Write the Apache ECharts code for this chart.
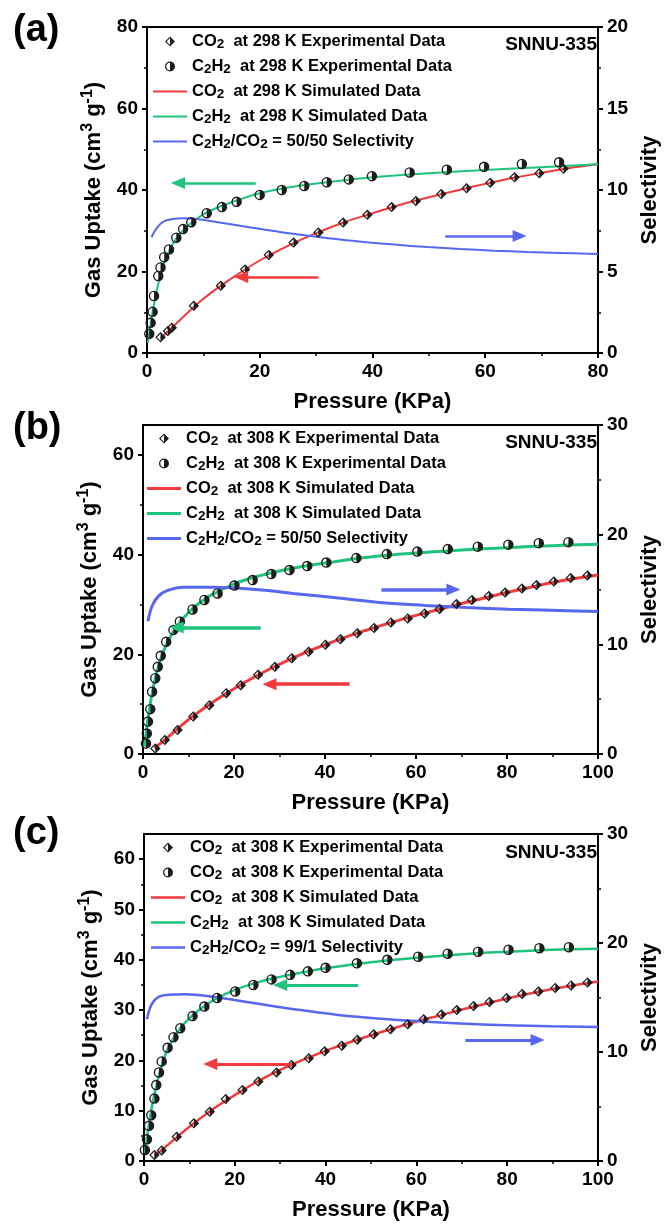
<!DOCTYPE html>
<html><head><meta charset="utf-8">
<script src="https://cdn.jsdelivr.net/npm/echarts@6/dist/echarts.min.js"></script>
<style>html,body{margin:0;padding:0;background:#fff}#c{width:669px;height:1227px}</style>
</head><body><div id="c"></div>
<script>
// ---------------- DATA ----------------
// Panel (a) 298 K
const a_co2_exp = [[2.4,3.85],[3.7,5.4],[4.4,6.2],[8.3,11.6],[13.1,16.5],[17.4,20.5],[21.6,24.05],[26.0,27.1],[30.4,29.6],[34.8,32.0],[39.1,33.9],[43.4,35.8],[47.7,37.3],[52.2,39.0],[56.7,40.4],[60.9,41.8],[65.2,43.1],[69.6,44.1],[73.9,45.2]];
const a_c2h2_exp = [[0.4,4.7],[0.65,7.4],[1.0,10.1],[1.25,14.0],[2.0,18.9],[2.4,21.0],[3.05,23.5],[3.9,25.4],[5.2,28.3],[6.4,30.4],[7.85,32.1],[10.6,34.3],[13.3,35.8],[15.9,37.1],[20.0,38.8],[23.9,40.0],[27.9,41.0],[31.9,41.9],[35.8,42.6],[39.9,43.4],[46.6,44.3],[53.2,45.0],[59.8,45.7],[66.5,46.4],[73.1,46.8]];
const a_co2_sim = [[2.4,3.6],[5,7.0],[10,13.3],[15,18.3],[20,22.7],[25,26.3],[30,29.4],[35,32.1],[40,34.3],[45,36.4],[50,38.2],[55,39.9],[60,41.5],[65,43.0],[70,44.2],[75,45.4],[80,46.3]];
const a_c2h2_sim = [[0.15,2.5],[0.5,5.8],[1,10],[1.5,13.8],[2,17],[3,22],[4,25.3],[5,27.7],[6,29.5],[7,30.9],[8,32.1],[10,34.0],[12,35.4],[15,37.0],[20,39.2],[25,40.6],[30,41.6],[35,42.4],[40,43.1],[50,44.1],[60,44.9],[70,45.6],[80,46.3]];
const a_sel = [[0.8,7.1],[1.7,7.65],[2.9,8.06],[4.6,8.22],[6.4,8.26],[8.7,8.22],[14.6,7.91],[20.5,7.59],[26.2,7.30],[32.2,7.04],[38.0,6.83],[43.9,6.65],[49.8,6.50],[55.6,6.38],[61.5,6.28],[67.4,6.20],[73.2,6.14],[80,6.07]];
const a_arrow_c2h2 = [[19.3,41.7],[5.5,41.7]];
const a_arrow_co2 = [[30.4,18.65],[16.7,18.65]];
const a_arrow_sel = [[52.9,7.18],[66.1,7.18]];

// Panel (b) 308 K
const b_co2_exp = [[2.7,1.1],[4.8,2.8],[7.6,4.8],[11.05,7.5],[14.6,9.8],[18.3,12.2],[21.5,13.8],[25.3,15.9],[29.0,17.5],[32.7,19.2],[36.4,20.5],[40.1,21.9],[43.4,23.0],[47.1,24.2],[50.8,25.3],[54.5,26.4],[58.2,27.2],[61.9,28.2],[65.2,29.1],[68.9,30.1],[72.3,30.9],[76.0,31.7],[79.6,32.4],[83.3,33.2],[86.5,33.9],[90.3,34.6],[94.0,35.3],[97.7,35.8]];
const b_c2h2_exp = [[0.65,2.1],[0.84,4.1],[1.1,6.5],[1.6,9.0],[2.0,12.5],[2.7,15.2],[3.25,17.5],[3.9,19.7],[5.1,22.5],[6.7,24.9],[8.1,26.6],[10.9,29.0],[13.5,30.9],[16.4,32.2],[20.1,33.8],[24.1,34.9],[28.2,36.1],[32.2,36.9],[36.1,37.7],[40.3,38.4],[46.9,39.3],[53.6,40.1],[60.3,40.6],[67.0,41.1],[73.6,41.6],[80.3,42.0],[87.0,42.3],[93.5,42.5]];
const b_co2_sim = [[2.5,1.2],[5,3.0],[10,6.9],[15,10.2],[20,13.1],[25,15.7],[30,18.0],[35,20.1],[40,21.9],[45,23.6],[50,25.1],[55,26.5],[60,27.8],[65,29.0],[70,30.2],[75,31.3],[80,32.4],[85,33.4],[90,34.4],[95,35.2],[100,35.9]];
const b_c2h2_sim = [[0.3,1.5],[0.6,3.5],[1,6.5],[1.5,9.5],[2,12.2],[3,16.3],[4,19.3],[5,21.7],[6,23.5],[7,25.0],[8,26.3],[10,28.4],[12,30.0],[15,31.9],[20,34.1],[25,35.6],[30,36.7],[35,37.6],[40,38.3],[50,39.5],[60,40.3],[70,40.9],[80,41.4],[90,41.8],[100,42.1]];
const b_sel = [[1.1,12.1],[2.0,13.5],[3.4,14.4],[5.3,14.9],[9.0,15.2],[15.5,15.2],[24.8,15.0],[34.1,14.6],[43.4,14.2],[52.6,13.8],[61.9,13.55],[71.2,13.35],[80.5,13.2],[89.8,13.1],[100,13.0]];
const b_arrow_c2h2 = [[25.9,25.4],[7.4,25.4]];
const b_arrow_co2 = [[45.4,14.0],[27.8,14.0]];
const b_arrow_sel = [[52.4,15.0],[68.2,15.0]];

// Panel (c) 308 K
const c_co2_exp = [[2.3,1.2],[3.9,2.1],[7.2,4.8],[11.0,7.5],[14.5,9.8],[18.0,12.3],[21.7,14.1],[25.2,15.8],[29.2,17.6],[32.5,19.1],[36.3,20.4],[39.8,21.8],[43.6,22.9],[47.0,24.1],[50.6,25.2],[54.3,26.2],[58.1,27.2],[61.6,28.2],[65.5,29.1],[68.9,30.0],[72.6,30.8],[76.1,31.6],[79.9,32.4],[83.3,33.2],[86.9,33.7],[90.6,34.4],[94.1,34.9],[97.7,35.5]];
const c_c2h2_exp = [[0.2,2.2],[0.66,4.3],[1.1,7.0],[1.6,9.1],[2.3,12.4],[2.7,15.1],[3.3,17.6],[3.9,19.8],[5.2,22.5],[6.5,24.6],[8.0,26.4],[10.7,28.8],[13.3,30.7],[16.1,32.4],[20.1,33.7],[24.1,35.0],[28.1,36.1],[32.2,37.0],[36.1,37.7],[40.0,38.4],[46.9,39.3],[53.6,40.0],[60.4,40.6],[66.9,41.2],[73.6,41.6],[80.3,42.0],[87.1,42.3],[93.6,42.5]];
const c_co2_sim = [[2.3,1.0],[5,3.0],[10,6.8],[15,10.2],[20,13.1],[25,15.8],[30,18.1],[35,20.1],[40,21.9],[45,23.5],[50,25.0],[55,26.4],[60,27.7],[65,28.9],[70,30.1],[75,31.2],[80,32.3],[85,33.3],[90,34.2],[95,35.0],[100,35.7]];
const c_c2h2_sim = [[0.2,1.5],[0.5,3.8],[1,6.8],[1.5,9.6],[2,12.0],[3,16.0],[4,19.2],[5,21.8],[6,23.6],[7,25.1],[8,26.4],[10,28.4],[12,29.9],[15,31.8],[20,34.0],[25,35.5],[30,36.6],[35,37.5],[40,38.3],[50,39.5],[60,40.4],[70,41.1],[80,41.6],[90,42.0],[100,42.2]];
const c_sel = [[0.66,13.0],[1.6,14.3],[3.0,15.0],[5.3,15.25],[9.1,15.3],[14.7,15.1],[24.1,14.5],[33.5,13.9],[42.8,13.4],[52.2,13.05],[61.6,12.8],[70.9,12.6],[80.3,12.45],[89.7,12.37],[100,12.3]];
const c_arrow_c2h2 = [[47.2,35.0],[30.0,35.0]];
const c_arrow_co2 = [[32.7,19.3],[14.6,19.3]];
const c_arrow_sel = [[70.8,11.1],[86.7,11.1]];

// Axes / text
const panelLabels = ['(a)', '(b)', '(c)'];
const sampleName = 'SNNU-335';
const xMax = [80, 100, 100];
const xInterval = [20, 20, 20];
const yLeftMax = [80, 66, 65];
const yLeftInterval = [20, 20, 10];
const yLeftTicks = [[0,20,40,60,80],[0,20,40,60],[0,10,20,30,40,50,60]];
const yRightMax = [20, 30, 30];
const yRightInterval = [5, 10, 10];
const legendTexts = [
  ['CO_2  at 298 K Experimental Data','C_2H_2  at 298 K Experimental Data','CO_2  at 298 K Simulated Data','C_2H_2  at 298 K Simulated Data','C_2H_2/CO_2 = 50/50 Selectivity'],
  ['CO_2  at 308 K Experimental Data','C_2H_2  at 308 K Experimental Data','CO_2  at 308 K Simulated Data','C_2H_2  at 308 K Simulated Data','C_2H_2/CO_2 = 50/50 Selectivity'],
  ['CO_2  at 308 K Experimental Data','CO_2  at 308 K Experimental Data','CO_2  at 308 K Simulated Data','C_2H_2  at 308 K Simulated Data','C_2H_2/CO_2 = 99/1 Selectivity']
];

// ---------------- STYLE / BUILD ----------------
const FONT = "'Liberation Sans', Arial, Helvetica, sans-serif";
const RED = '#f23a3c', GREEN = '#1ec47c', BLUE = '#5867ef', MK = '#1c1c1c';
const GRIDS = [
  {left:147, top:27, width:455, height:326},
  {left:143, top:425, width:460, height:329},
  {left:144, top:834, width:459, height:327}
];
const LW = [2, 3, 2.5];
const LEG_POS = [{left:153, top:33}, {left:147, top:430}, {left:151, top:839}];
const TITLE_TOP = [12, 410, 815];
const SNNU_TOP = [35, 433, 843];

const DIAMOND = 'path://M5,0L10,5L5,10L0,5Z M5,1.6L1.6,5L5,8.4Z';
const HALFCIRC = 'path://M5,0A5,5 0 1,1 5,10A5,5 0 1,1 5,0Z M5,1.3A3.7,3.7 0 0,0 5,8.7Z';

function rt(str) { return '{t|' + str.replace(/_(\d)/g, '}{s|$1}{t|') + '}'; }

const panels = [
  {co2e:a_co2_exp, c2e:a_c2h2_exp, co2s:a_co2_sim, c2s:a_c2h2_sim, sel:a_sel, ac2:a_arrow_c2h2, aco2:a_arrow_co2, asel:a_arrow_sel},
  {co2e:b_co2_exp, c2e:b_c2h2_exp, co2s:b_co2_sim, c2s:b_c2h2_sim, sel:b_sel, ac2:b_arrow_c2h2, aco2:b_arrow_co2, asel:b_arrow_sel},
  {co2e:c_co2_exp, c2e:c_c2h2_exp, co2s:c_co2_sim, c2s:c_c2h2_sim, sel:c_sel, ac2:c_arrow_c2h2, aco2:c_arrow_co2, asel:c_arrow_sel}
];

const DISPLAY = {};
const grid = [], xAxis = [], yAxis = [], series = [], legend = [], title = [];
const axisTxt = {color:'#000', fontFamily:FONT, fontWeight:'bold', fontSize:19};
const axisLine = {show:true, lineStyle:{color:'#000', width:2}};

function arrowML(pts, color, w) {
  return {
    silent:true, animation:false,
    symbol: ['none','triangle'], symbolSize:[12,14],
    label:{show:false},
    lineStyle:{color:color, width:w+0.5, type:'solid'},
    emphasis:{disabled:true},
    data:[[{coord:pts[0]},{coord:pts[1]}]]
  };
}

panels.forEach((p, i) => {
  grid.push(Object.assign({show:true, borderColor:'#000', borderWidth:2, backgroundColor:'transparent', containLabel:false}, GRIDS[i]));
  xAxis.push({
    type:'value', gridIndex:i, min:0, max:xMax[i], interval:xInterval[i],
    axisLine, splitLine:{show:false},
    axisTick:{show:true, length:5, lineStyle:{width:2, color:'#000'}},
    minorTick:{show:true, splitNumber:2, length:3, lineStyle:{width:1.5, color:'#000'}},
    axisLabel:Object.assign({margin:9}, axisTxt),
    name:'Pressure (KPa)', nameLocation:'middle', nameGap:38,
    nameTextStyle:{color:'#000', fontFamily:FONT, fontWeight:'bold', fontSize:22}
  });
  const divisible = yLeftMax[i] % yLeftInterval[i] === 0;
  const leftY = {
    type:'value', gridIndex:i, position:'left', min:0, max:yLeftMax[i], interval:yLeftInterval[i],
    axisLine, splitLine:{show:false},
    axisTick:{show:true, length:5, lineStyle:{width:2, color:'#000'}},
    minorTick:{show:true, splitNumber:2, length:3, lineStyle:{width:1.5, color:'#000'}},
    axisLabel:Object.assign({margin:9}, axisTxt),
    name:'{t|Gas Uptake (cm}{p|3}{t| g}{p|-1}{t|)}', nameLocation:'middle', nameGap:39, nameRotate:90,
    nameTextStyle:{rich:{
      t:{color:'#000', fontFamily:FONT, fontWeight:'bold', fontSize:22, lineHeight:28},
      p:{color:'#000', fontFamily:FONT, fontWeight:'bold', fontSize:16, verticalAlign:'top'}
    }}
  };
  if (!divisible) {
    leftY.axisTick.customValues = yLeftTicks[i];
    leftY.axisLabel.customValues = yLeftTicks[i];
    leftY.axisLabel.showMaxLabel = true;
  }
  yAxis.push(leftY);
  yAxis.push({
    type:'value', gridIndex:i, position:'right', min:0, max:yRightMax[i], interval:yRightInterval[i],
    axisLine, splitLine:{show:false},
    axisTick:{show:true, length:5, lineStyle:{width:2, color:'#000'}},
    minorTick:{show:true, splitNumber:2, length:3, lineStyle:{width:1.5, color:'#000'}},
    axisLabel:Object.assign({margin:9}, axisTxt),
    name:'Selectivity', nameLocation:'middle', nameGap:41, nameRotate:90,
    nameTextStyle:{color:'#000', fontFamily:FONT, fontWeight:'bold', fontSize:22}
  });

  const names = ['co2e','c2e','co2s','c2s','sel'].map(k => 'p' + i + '_' + k);
  names.forEach((n, k) => { DISPLAY[n] = legendTexts[i][k]; });
  const yl = 2*i, yr = 2*i + 1;

  series.push({
    name:names[2], type:'line', xAxisIndex:i, yAxisIndex:yl, data:p.co2s, smooth:0.4,
    symbol:'none', lineStyle:{color:RED, width:LW[i]}, itemStyle:{color:RED}, z:2,
    markLine:arrowML(p.aco2, RED, LW[i])
  });
  series.push({
    name:names[3], type:'line', xAxisIndex:i, yAxisIndex:yl, data:p.c2s, smooth:0.4,
    symbol:'none', lineStyle:{color:GREEN, width:LW[i]}, itemStyle:{color:GREEN}, z:2,
    markLine:arrowML(p.ac2, GREEN, LW[i])
  });
  series.push({
    name:names[4], type:'line', xAxisIndex:i, yAxisIndex:yr, data:p.sel, smooth:0.4,
    symbol:'none', lineStyle:{color:BLUE, width:LW[i]}, itemStyle:{color:BLUE}, z:2,
    markLine:arrowML(p.asel, BLUE, LW[i])
  });
  series.push({
    name:names[0], type:'scatter', xAxisIndex:i, yAxisIndex:yl, data:p.co2e,
    symbol:DIAMOND, symbolSize:10.5, symbolKeepAspect:true, itemStyle:{color:MK, opacity:1}, z:4
  });
  series.push({
    name:names[1], type:'scatter', xAxisIndex:i, yAxisIndex:yl, data:p.c2e,
    symbol:HALFCIRC, symbolSize:10.5, symbolKeepAspect:true, itemStyle:{color:MK, opacity:1}, z:4
  });

  const lineIcon = 'path://M0,0H34V' + LW[i] + 'H0Z';
  legend.push({
    data:names.map((n, k) => k >= 2 ? {name:n, icon:lineIcon} : {name:n}),
    orient:'vertical', left:LEG_POS[i].left, top:LEG_POS[i].top,
    itemWidth:34, itemHeight:10, itemGap:6.5, padding:0, selectedMode:false,
    formatter:(n) => rt(DISPLAY[n]),
    textStyle:{rich:{
      t:{color:'#000', fontFamily:FONT, fontWeight:'bold', fontSize:16.5, lineHeight:20},
      s:{color:'#000', fontFamily:FONT, fontWeight:'bold', fontSize:13.5, verticalAlign:'bottom'}
    }}
  });

  title.push({text:panelLabels[i], left:13, top:TITLE_TOP[i], padding:0,
    textStyle:{color:'#000', fontFamily:FONT, fontWeight:'bold', fontSize:38}});
  title.push({text:sampleName, right:72, top:SNNU_TOP[i], padding:0,
    textStyle:{color:'#000', fontFamily:FONT, fontWeight:'bold', fontSize:19}});
});

const chart = echarts.init(document.getElementById('c'), null, {renderer:'canvas', width:669, height:1227});
chart.setOption({backgroundColor:'#fff', animation:false, title, legend, grid, xAxis, yAxis, series});
</script></body></html>
